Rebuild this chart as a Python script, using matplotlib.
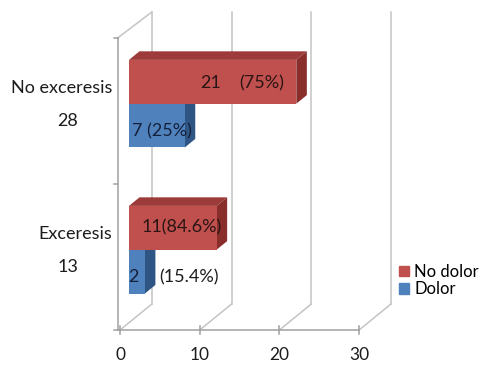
import matplotlib
matplotlib.use("Agg")
import matplotlib.pyplot as plt
from matplotlib.patches import Patch

plt.rcParams['font.family'] = ['Lato', 'DejaVu Sans']

cat_names = ["Exceresis", "No exceresis"]
cat_totals = ["13", "28"]
dolor = [2, 7]
no_dolor = [11, 21]
dolor_pct = ["(15.4%)", "(25%)"]
no_dolor_pct = ["(84.6%)", "(75%)"]
xticks = [0, 10, 20, 30]

RED = "#C0504D"; RED_TOP = "#9C3B39"; RED_SIDE = "#8A2E2C"
BLUE = "#4F81BD"; BLUE_TOP = "#3F6A9E"; BLUE_SIDE = "#2F5585"
GRID = "#C4C4C4"; AXC = "#A0A0A0"
TXT = "#1c1c1c"

DX, DY = 4.0, 0.178      # depth of the 3D box (value units, category units)
F0, F1 = 0.28, 0.61      # bar front / back depth fraction
BH = 0.30                # bar height (category units)
FS = 13

fig = plt.figure(figsize=(4.86, 3.70), dpi=100)
ax = fig.add_axes([0, 0, 1, 1])
ax.set_xlim(-15.06, 45.92)
ax.set_ylim(-0.774, 1.76)
ax.axis('off')

ylo, yhi = -0.5, 1.5
for t in xticks:
    ax.plot([t + DX, t + DX], [ylo + DY, yhi + DY], color=GRID, lw=1.1, zorder=1)
    ax.plot([t, t + DX], [ylo, ylo + DY], color=GRID, lw=1.1, zorder=1)
ax.plot([-0.3, DX], [yhi, yhi + DY], color=GRID, lw=1.1, zorder=1)
ax.plot([-0.3, -0.3], [ylo, yhi], color=AXC, lw=1.1, zorder=1)
ax.plot([-0.3, 30], [ylo, ylo], color=AXC, lw=1.1, zorder=1)
for t in xticks:
    ax.plot([t, t], [ylo - 0.025, ylo + 0.025], color=AXC, lw=1.1, zorder=1)
    ax.text(t, ylo - 0.17, str(t), ha='center', va='center', fontsize=12.5, color=TXT)
for yy in [ylo, 0.5, yhi]:
    ax.plot([-0.7, -0.3], [yy, yy], color=AXC, lw=1.1, zorder=1)


def bar3d(y0, val, front, top, side, z):
    x0f, y0f = F0 * DX, y0 + F0 * DY
    ddx, ddy = (F1 - F0) * DX, (F1 - F0) * DY
    xe = val + x0f
    ax.fill([x0f, xe, xe + ddx, x0f + ddx], [y0f + BH, y0f + BH, y0f + BH + ddy, y0f + BH + ddy],
            color=top, lw=0, zorder=z)
    ax.fill([xe, xe + ddx, xe + ddx, xe], [y0f, y0f + ddy, y0f + BH + ddy, y0f + BH],
            color=side, lw=0, zorder=z)
    ax.fill([x0f, xe, xe, x0f], [y0f, y0f, y0f + BH, y0f + BH], color=front, lw=0, zorder=z)


name_x = [-5.65, -7.28]
total_x = [-6.52, -6.52]
for i in range(len(cat_names)):
    bar3d(i - BH, dolor[i], BLUE, BLUE_TOP, BLUE_SIDE, 2)
    bar3d(i, no_dolor[i], RED, RED_TOP, RED_SIDE, 3)
    ax.text(name_x[i], i + 0.157, cat_names[i], ha='center', va='center', fontsize=FS, color=TXT)
    ax.text(total_x[i], i - 0.07, cat_totals[i], ha='center', va='center', fontsize=FS, color=TXT)

tc = '#2a1414'
bc = '#14203a'
yoff = F0 * DY + BH / 2
ax.text(11.4, 1.0 + yoff - 0.01, str(no_dolor[1]), ha='center', va='center', fontsize=FS, color=tc, zorder=5)
ax.text(17.8, 1.0 + yoff - 0.01, no_dolor_pct[1], ha='center', va='center', fontsize=FS, color=tc, zorder=5)
ax.text(5.27, 1.0 - BH + yoff - 0.04, f"{dolor[1]} {dolor_pct[1]}", ha='center', va='center', fontsize=FS, color=bc, zorder=5)
ax.text(7.78, yoff, f"{no_dolor[0]}{no_dolor_pct[0]}", ha='center', va='center', fontsize=FS, color=tc, zorder=5)
ax.text(1.63, -BH + yoff - 0.04, str(dolor[0]), ha='center', va='center', fontsize=FS, color=bc, zorder=5)
ax.text(8.66, -BH + yoff - 0.04, dolor_pct[0], ha='center', va='center', fontsize=FS, color=TXT, zorder=5)

handles = [Patch(color=RED), Patch(color=BLUE)]
ax.legend(handles, ["No dolor", "Dolor"], loc='upper left', bbox_to_anchor=(0.808, 0.305),
          frameon=False, handlelength=0.6, handleheight=0.6, handletextpad=0.3,
          labelspacing=0.1, borderaxespad=0, fontsize=12)

fig.savefig("out.png", dpi=100)
